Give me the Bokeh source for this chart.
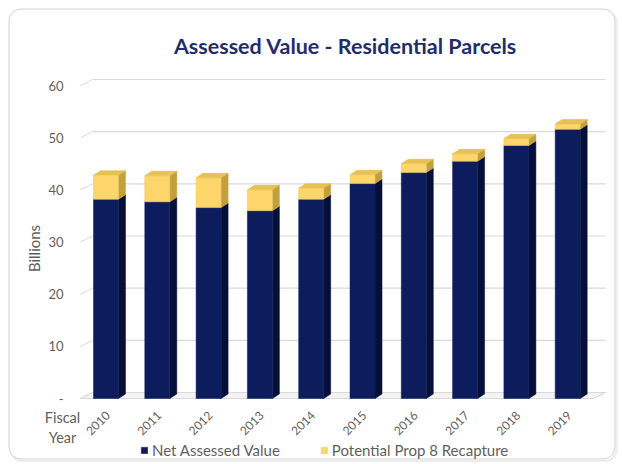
import math
from bokeh.plotting import figure
from bokeh.models import Range1d, Label, Legend, LegendItem
from bokeh.core.properties import value
from bokeh.embed import file_html
from bokeh.resources import INLINE

# ---------------- data ----------------
years = ["2010", "2011", "2012", "2013", "2014", "2015", "2016", "2017", "2018", "2019"]
net_assessed = [38.2, 37.7, 36.6, 36.0, 38.2, 41.2, 43.3, 45.5, 48.5, 51.6]
prop8_recapture = [4.6, 5.0, 5.7, 4.0, 2.1, 1.7, 1.7, 1.4, 1.3, 1.0]
y_ticks = [0, 10, 20, 30, 40, 50, 60]
y_tick_labels = ["-", "10", "20", "30", "40", "50", "60"]
title_text = "Assessed Value - Residential Parcels"
y_title = "Billions"
x_title = ["Fiscal", "Year"]
series_names = ["Net Assessed Value", "Potential Prop 8 Recapture"]

# ---------------- geometry (px of the picture) ----------------
W, H = 618, 462
ZERO_PX, TOP_PX = 398, 85          # picture y of value 0 and of value 60
PX_CAT = 51.3                      # px per category
FIRST_CENTER = 105.5               # picture x of the first bar centre
ppu = (ZERO_PX - TOP_PX) / 60.0    # px per value unit

def X(px):
    return (px - FIRST_CENTER) / PX_CAT

def Y(py):
    return (ZERO_PX - py) / ppu

bw = 25 / PX_CAT            # front face width
bdx = 7 / PX_CAT            # bar depth x
bdy = 4.5 / ppu             # bar depth y
wall_l, wall_r = X(80), X(605)
gdx = 12 / PX_CAT           # wall depth x
gdy = 6 / ppu               # wall depth y
lab_dx = 2 / PX_CAT         # year label shift

NAVY = "#0d1c5c"
NAVY_SIDE = "#060f38"
YEL = "#fcd66a"
YEL_SIDE = "#c4a03c"
YEL_TOP = "#e6c255"
GRID = "#d9d9d9"
GRAY = "#5f5f5f"
FONT = "Lato"

p = figure(width=W, height=H, output_backend="svg", toolbar_location=None,
           x_range=Range1d(X(0), X(W)), y_range=Range1d(Y(H), Y(0)),
           x_axis_location=None, y_axis_location=None, min_border=0)
p.outline_line_color = None
p.background_fill_color = "white"
p.border_fill_color = "white"
p.grid.visible = False
p.title.visible = False

# ---------------- chart box ----------------
p.quad(left=X(10), right=X(616), top=Y(10.5), bottom=Y(460.5), border_radius=12,
       fill_color=None, line_color="#ececec", line_width=2)
p.quad(left=X(8.5), right=X(614.5), top=Y(8.5), bottom=Y(458.5), border_radius=12,
       fill_color="white", line_color="#d2d2d2", line_width=1)

# ---------------- walls / floor ----------------
floor_xs = [wall_l, wall_r - gdx, wall_r, wall_l + gdx]
floor_ys = [0, 0, gdy, gdy]
p.patch(floor_xs, floor_ys, fill_color="#f3f3f3", line_color=GRID, line_width=1)

slant_xs, slant_ys, hor_xs, hor_ys = [], [], [], []
for v in y_ticks:
    slant_xs.append([wall_l, wall_l + gdx])
    slant_ys.append([v, v + gdy])
    hor_xs.append([wall_l + gdx, wall_r])
    hor_ys.append([v + gdy, v + gdy])
p.multi_line(slant_xs, slant_ys, line_color=GRID, line_width=1)
p.multi_line(hor_xs, hor_ys, line_color=GRID, line_width=1.2)

# ---------------- 3D bars ----------------
idx = list(range(len(years)))
totals = [a + b for a, b in zip(net_assessed, prop8_recapture)]

def side_faces(bottoms, tops):
    xs, ys = [], []
    for i, b, t in zip(idx, bottoms, tops):
        r = i + bw / 2
        xs.append([r, r + bdx, r + bdx, r])
        ys.append([b, b + bdy, t + bdy, t])
    return xs, ys

def top_faces(tops):
    xs, ys = [], []
    for i, t in zip(idx, tops):
        l, r = i - bw / 2, i + bw / 2
        xs.append([l, l + bdx, r + bdx, r])
        ys.append([t, t + bdy, t + bdy, t])
    return xs, ys

sx, sy = side_faces([0] * len(idx), net_assessed)
p.patches(sx, sy, fill_color=NAVY_SIDE, line_color=NAVY_SIDE, line_width=0.5)
sx, sy = side_faces(net_assessed, totals)
p.patches(sx, sy, fill_color=YEL_SIDE, line_color=YEL_SIDE, line_width=0.5)
tx, ty = top_faces(totals)
p.patches(tx, ty, fill_color=YEL_TOP, line_color="#d8b445", line_width=0.5)

r_net = p.vbar(x=idx, width=bw, bottom=0, top=net_assessed,
               fill_color=NAVY, line_color=NAVY, line_width=0.5)
r_rec = p.vbar(x=idx, width=bw, bottom=net_assessed, top=totals,
               fill_color=YEL, line_color="#e9c55a", line_width=0.5)

# ---------------- tick labels ----------------
p.text(x=[X(63)] * len(y_ticks), y=y_ticks, text=y_tick_labels,
       text_align="right", text_baseline="middle", text_font=value(FONT),
       text_font_size="13px", text_color=GRAY)
p.text(x=[i + lab_dx for i in idx], y=[Y(413)] * len(idx), text=years, angle=math.pi / 4,
       text_align="right", text_baseline="middle", text_font=value(FONT),
       text_font_size="12px", text_color=GRAY)

# ---------------- titles ----------------
p.add_layout(Label(x=X(345), y=Y(45), text=title_text,
                   text_align="center", text_baseline="middle", text_font=FONT,
                   text_font_style="bold", text_font_size="21.5px", text_color="#1f2d6b"))
p.add_layout(Label(x=X(33), y=Y(248), text=y_title, angle=math.pi / 2,
                   text_align="center", text_baseline="middle",
                   text_font=FONT, text_font_size="15px", text_color=GRAY))
p.add_layout(Label(x=X(62), y=Y(417), text=x_title[0],
                   text_align="center", text_baseline="middle",
                   text_font=FONT, text_font_size="14.5px", text_color=GRAY))
p.add_layout(Label(x=X(62), y=Y(437), text=x_title[1],
                   text_align="center", text_baseline="middle",
                   text_font=FONT, text_font_size="14.5px", text_color=GRAY))

# ---------------- legend ----------------
legend = Legend(items=[LegendItem(label=series_names[0], renderers=[r_net]),
                       LegendItem(label=series_names[1], renderers=[r_rec])],
                orientation="horizontal", location=(140, H - 459),
                padding=0, margin=0, spacing=40, label_standoff=4,
                glyph_width=8, glyph_height=8, label_height=16,
                border_line_color=None, background_fill_alpha=0,
                label_text_font=FONT, label_text_font_size="15px",
                label_text_color=GRAY)
p.add_layout(legend)

open("out.html", "w").write(file_html(p, INLINE))
